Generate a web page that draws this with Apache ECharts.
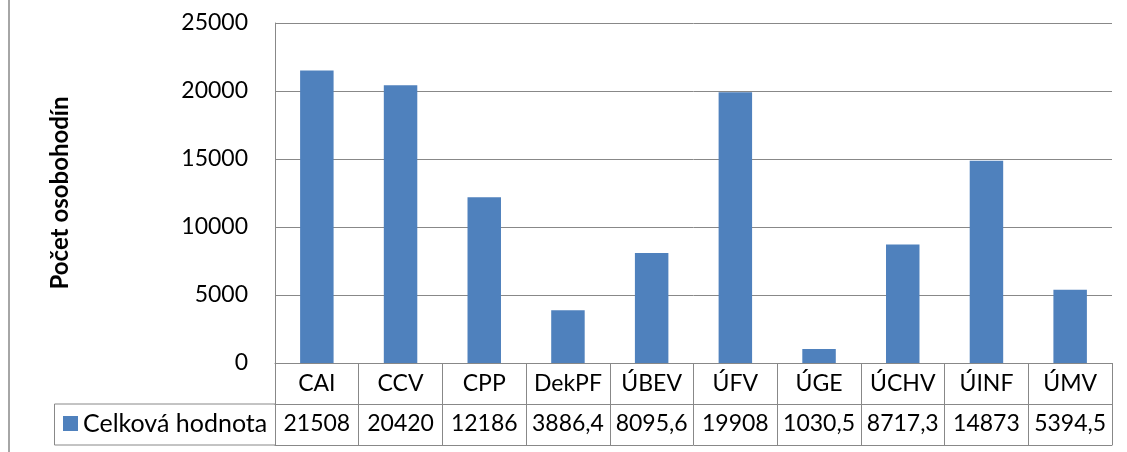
<!DOCTYPE html>
<html>
<head>
<meta charset="utf-8">
<script src="https://cdn.jsdelivr.net/npm/echarts@6/dist/echarts.min.js"></script>
<style>
  html, body { margin: 0; padding: 0; background: #fff; }
  #chart { width: 1127px; height: 452px; }
</style>
</head>
<body>
<div id="chart"></div>
<script>
const categories = ['CAI', 'CCV', 'CPP', 'DekPF', 'ÚBEV', 'ÚFV', 'ÚGE', 'ÚCHV', 'ÚINF', 'ÚMV'];
const values = [21508, 20420, 12186, 3886.4, 8095.6, 19908, 1030.5, 8717.3, 14873, 5394.5];
const seriesName = 'Celková hodnota';
const yTitle = 'Počet osobohodín';

const font = 'Lato';
const lineColor = '#888';

// data table row uses a decimal comma
const tableLabels = values.map(v => String(v).replace('.', ','));

const chart = echarts.init(document.getElementById('chart'));

const option = {
  animation: false,
  textStyle: { fontFamily: font, color: '#000' },
  grid: { left: 275, right: 15, top: 23, bottom: 89 },
  legend: {
    data: [seriesName],
    left: 63,
    top: 411,
    icon: 'rect',
    itemWidth: 15,
    itemHeight: 15,
    itemGap: 0,
    textStyle: { fontFamily: font, fontSize: 25, color: '#000', padding: [0, 0, 0, 0] },
    padding: 0
  },
  yAxis: {
    type: 'value',
    min: 0,
    max: 25000,
    interval: 5000,
    name: yTitle,
    nameLocation: 'middle',
    nameGap: 203,
    nameTextStyle: { fontFamily: font, fontSize: 24, fontWeight: 'bold', color: '#000' },
    axisLine: { show: true, lineStyle: { color: lineColor, width: 1 } },
    axisTick: { show: false },
    axisLabel: { fontFamily: font, fontSize: 23, color: '#000', margin: 27, formatter: v => String(v) },
    splitLine: { lineStyle: { color: lineColor, width: 1 } }
  },
  xAxis: [
    {
      type: 'category',
      data: categories,
      position: 'bottom',
      axisLine: { lineStyle: { color: lineColor, width: 1 } },
      axisTick: { show: true, interval: 0, length: 82, lineStyle: { color: lineColor } },
      axisLabel: { interval: 0, fontFamily: font, fontSize: 23, color: '#000', margin: 9 }
    },
    {
      type: 'category',
      data: tableLabels,
      position: 'bottom',
      offset: 41,
      axisLine: { lineStyle: { color: lineColor, width: 1 } },
      axisTick: { show: false },
      axisLabel: { interval: 0, fontFamily: font, fontSize: 23, color: '#000', margin: 8 }
    },
    {
      type: 'category',
      data: categories,
      position: 'bottom',
      offset: 82,
      axisLine: { lineStyle: { color: lineColor, width: 1 } },
      axisTick: { show: false },
      axisLabel: { show: false }
    }
  ],
  graphic: [
    // legend cell of the data table
    {
      type: 'polyline',
      shape: { points: [[275, 404], [54.5, 404], [54.5, 445], [275, 445]] },
      style: { stroke: lineColor, lineWidth: 1, fill: null }
    },
    // left edge of the chart frame
    {
      type: 'line',
      shape: { x1: 9, y1: 0, x2: 9, y2: 452 },
      style: { stroke: lineColor, lineWidth: 1.5 }
    }
  ],
  series: [
    {
      name: seriesName,
      type: 'bar',
      xAxisIndex: 0,
      data: values,
      barWidth: '40%',
      itemStyle: { color: '#4F81BD' }
    }
  ]
};

chart.setOption(option);
</script>
</body>
</html>
